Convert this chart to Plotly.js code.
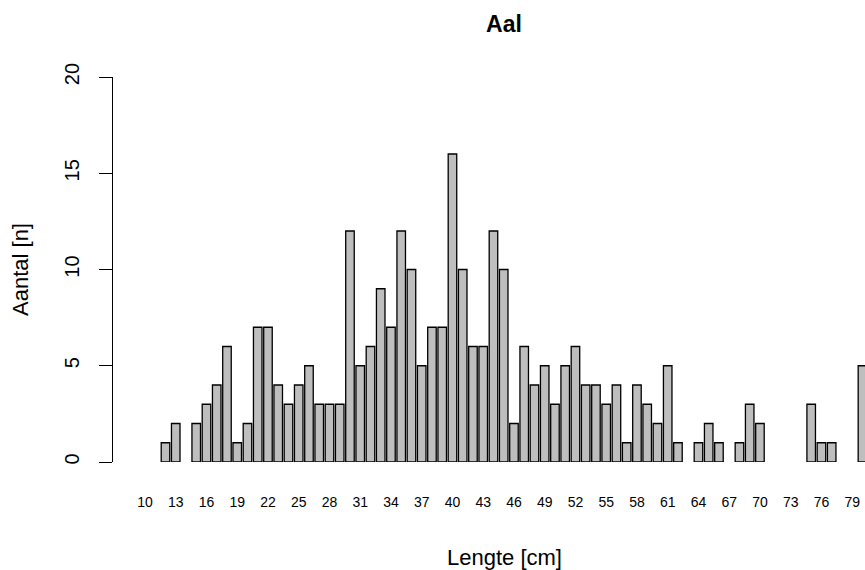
<!DOCTYPE html>
<html>
<head>
<meta charset="utf-8">
<script src="https://cdn.plot.ly/plotly-3.0.1.min.js"></script>
<style>html,body{margin:0;padding:0;background:#fff;overflow:hidden}</style>
</head>
<body>
<div id="chart" style="width:865px;height:570px"></div>
<script>
// Length classes (cm)
const lengths = [10,11,12,13,14,15,16,17,18,19,20,21,22,23,24,25,26,27,28,29,30,31,32,33,34,35,36,37,38,39,40,41,42,43,44,45,46,47,48,49,50,51,52,53,54,55,56,57,58,59,60,61,62,63,64,65,66,67,68,69,70,71,72,73,74,75,76,77,78,79,80];
// Counts per length class (null = no fish in that class)
const counts = [null,null,1,2,null,2,3,4,6,1,2,7,7,4,3,4,5,3,3,3,12,5,6,9,7,12,10,5,7,7,16,10,6,6,12,10,2,6,4,5,3,5,6,4,4,3,4,1,4,3,2,5,1,null,1,2,1,null,1,3,2,null,null,null,null,3,1,1,null,null,5];
// Tick labels shown on the x axis
const xTickLabels = [10,13,16,19,22,25,28,31,34,37,40,43,46,49,52,55,58,61,64,67,70,73,76,79];
const yTickLabels = [0,5,10,15,20];

const FONT = '"Liberation Sans", Arial, Helvetica, sans-serif';

const trace = {
  type: 'bar',
  x: lengths,
  y: counts,
  width: 1/1.2,
  marker: {color: '#bebebe', line: {color: '#000000', width: 1.3}},
  hoverinfo: 'x+y'
};

const layout = {
  width: 865, height: 570,
  margin: {l: 113, r: 0, t: 77, b: 108, pad: 0},
  paper_bgcolor: '#ffffff', plot_bgcolor: '#ffffff',
  font: {family: FONT, color: '#000000', size: 20},
  showlegend: false,
  bargap: 0,
  title: {
    text: '<b>Aal</b>',
    font: {family: FONT, size: 23, color: '#000000'},
    xref: 'container', x: 504/865, xanchor: 'center',
    yref: 'container', y: 1 - 24/570, yanchor: 'middle'
  },
  xaxis: {
    range: [6.88, 80.25],
    tickmode: 'array',
    tickvals: xTickLabels,
    ticktext: xTickLabels.map(String),
    ticks: '',
    showline: false, showgrid: false, zeroline: false,
    tickfont: {family: FONT, size: 14, color: '#000000'},
    ticklabelstandoff: 30
  },
  yaxis: {
    range: [0, 20],
    tickmode: 'array',
    tickvals: yTickLabels,
    ticktext: yTickLabels.map(String),
    ticks: 'outside', ticklen: 13, tickwidth: 1, tickcolor: '#000000',
    showline: true, linecolor: '#000000', linewidth: 1,
    showgrid: false, zeroline: false,
    tickangle: -90,
    tickfont: {family: FONT, size: 20, color: '#000000'},
    ticklabelstandoff: 12,
    title: {text: 'Aantal [n]', font: {family: FONT, size: 22, color: '#000000'}, standoff: 26}
  },
  annotations: [{
    text: 'Lengte [cm]',
    xref: 'paper', yref: 'paper',
    x: (504-113)/752, y: (462-557)/385,
    xanchor: 'center', yanchor: 'middle',
    showarrow: false,
    font: {family: FONT, size: 22, color: '#000000'}
  }]
};

Plotly.newPlot('chart', [trace], layout, {displayModeBar: false, staticPlot: true});
</script>
</body>
</html>
